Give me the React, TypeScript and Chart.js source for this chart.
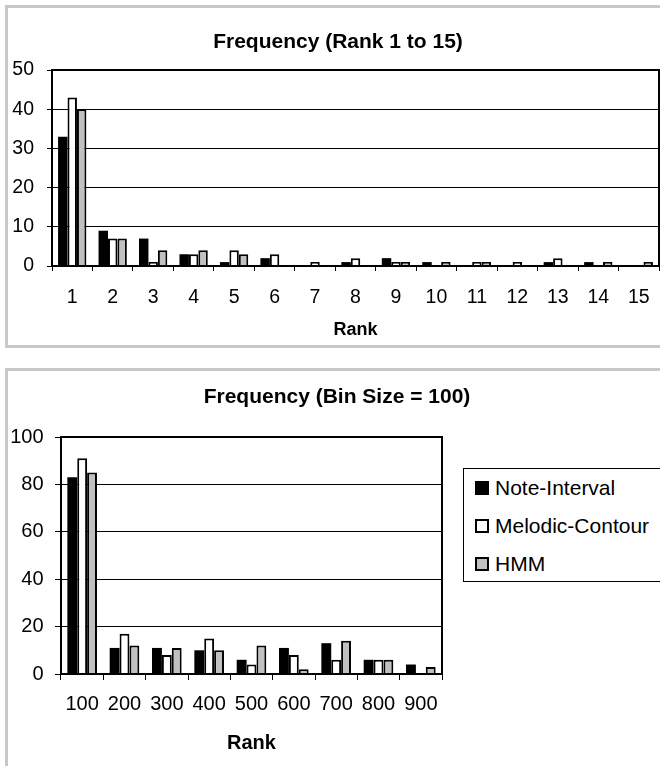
import React, { useEffect, useRef } from "react";
import { Chart, registerables } from "chart.js";

Chart.register(...registerables);

// ---------- data ----------
const rankLabels = ["1", "2", "3", "4", "5", "6", "7", "8", "9", "10", "11", "12", "13", "14", "15"];
const rankNoteInterval = [33, 9, 7, 3, 1, 2, 0, 1, 2, 1, 0, 0, 1, 1, 0];
const rankMelodicContour = [43, 7, 1, 3, 4, 3, 1, 2, 1, 0, 1, 1, 2, 0, 0];
const rankHMM = [40, 7, 4, 4, 3, 0, 0, 0, 1, 1, 1, 0, 0, 1, 1];

const binLabels = ["100", "200", "300", "400", "500", "600", "700", "800", "900"];
const binNoteInterval = [83, 11, 11, 10, 6, 11, 13, 6, 4];
const binMelodicContour = [91, 17, 8, 15, 4, 8, 6, 6, 0];
const binHMM = [85, 12, 11, 10, 12, 2, 14, 6, 3];

const seriesNames = ["Note-Interval", "Melodic-Contour", "HMM"];
const seriesColors = ["#000000", "#ffffff", "#c0c0c0"];

const FONT = "'Liberation Sans', Arial, Helvetica, sans-serif";

const framePlugin = {
  id: "frame",
  afterDraw(chart: any) {
    const { ctx, chartArea: a } = chart;
    ctx.save();
    ctx.strokeStyle = "#000";
    ctx.lineWidth = 2;
    ctx.strokeRect(a.left, a.top, a.right - a.left, a.bottom - a.top);
    ctx.restore();
  },
};

// chart title drawn centred on the whole canvas (independent of layout padding)
const centerTitlePlugin = {
  id: "centerTitle",
  afterDraw(chart: any, _args: any, opts: any) {
    if (!opts || !opts.text) return;
    const { ctx } = chart;
    ctx.save();
    ctx.fillStyle = "#000";
    ctx.font = `bold ${opts.size}px ${FONT}`;
    ctx.textAlign = "center";
    ctx.textBaseline = "middle";
    ctx.fillText(opts.text, opts.x, opts.y);
    ctx.restore();
  },
};

type ChartProps = {
  width: number;
  height: number;
  labels: string[];
  series: number[][];
  title: string;
  titleSize: number;
  titleX: number;
  titleY: number;
  plotTop: number;
  yMax: number;
  yStep: number;
  yWidth: number;
  yTickLen: number;
  yTickPad: number;
  xHeight: number;
  xTickLen: number;
  xTickPad: number;
  tickSize: number;
  axisTitleSize: number;
  axisTitlePadBottom: number;
  padRight: number;
};

function BarChart(p: ChartProps) {
  const ref = useRef<HTMLCanvasElement | null>(null);
  useEffect(() => {
    if (!ref.current) return;
    const chart = new Chart(ref.current, {
      type: "bar",
      data: {
        labels: p.labels,
        datasets: p.series.map((d, i) => ({
          label: seriesNames[i],
          data: d,
          backgroundColor: seriesColors[i],
          borderColor: "#000",
          borderWidth: i === 0 ? 0 : 2,
          categoryPercentage: 0.7,
          barPercentage: 1,
        })),
      },
      options: {
        responsive: false,
        animation: false,
        devicePixelRatio: 1,
        layout: { padding: { left: 0, right: p.padRight, top: p.plotTop, bottom: 0 } },
        plugins: {
          legend: { display: false },
          tooltip: { enabled: false },
          title: { display: false },
          centerTitle: { text: p.title, size: p.titleSize, x: p.titleX, y: p.titleY },
        },
        scales: {
          x: {
            grid: {
              display: true,
              drawOnChartArea: false,
              drawTicks: true,
              tickLength: p.xTickLen,
              color: "#000",
              lineWidth: 1,
              offset: true,
            },
            border: { display: true, color: "#000", width: 2 },
            ticks: {
              color: "#000",
              font: { family: FONT, size: p.tickSize, lineHeight: 1.2 },
              padding: p.xTickPad,
              autoSkip: false,
              maxRotation: 0,
              minRotation: 0,
            },
            title: {
              display: true,
              text: "Rank",
              color: "#000",
              font: { family: FONT, size: p.axisTitleSize, weight: "bold", lineHeight: 1.2 },
              padding: { top: 0, bottom: p.axisTitlePadBottom },
            },
            afterFit: (s: any) => {
              s.height = p.xHeight;
            },
          },
          y: {
            min: 0,
            max: p.yMax,
            grid: {
              display: true,
              drawOnChartArea: true,
              drawTicks: true,
              tickLength: p.yTickLen,
              color: "#000",
              lineWidth: 1,
            },
            border: { display: true, color: "#000", width: 2 },
            ticks: {
              stepSize: p.yStep,
              color: "#000",
              font: { family: FONT, size: p.tickSize, lineHeight: 1.2 },
              padding: p.yTickPad,
            },
            afterFit: (s: any) => {
              s.width = p.yWidth;
            },
          },
        },
      },
      plugins: [framePlugin, centerTitlePlugin],
    } as any);
    return () => chart.destroy();
  }, []);
  return <canvas ref={ref} width={p.width} height={p.height} style={{ display: "block" }} />;
}

export default function App() {
  return (
    <div
      style={{
        position: "absolute",
        left: 0,
        top: 0,
        width: 660,
        height: 766,
        overflow: "hidden",
        background: "#fff",
        fontFamily: FONT,
      }}
    >
      {/* chart frames */}
      <div
        style={{
          position: "absolute",
          left: 5,
          top: 5,
          width: 700,
          height: 343,
          border: "3px solid #c8c8c8",
          boxSizing: "border-box",
        }}
      />
      <div
        style={{
          position: "absolute",
          left: 5,
          top: 368,
          width: 700,
          height: 500,
          border: "3px solid #c8c8c8",
          boxSizing: "border-box",
        }}
      />

      <div style={{ position: "absolute", left: 0, top: 0 }}>
        <BarChart
          width={674}
          height={350}
          labels={rankLabels}
          series={[rankNoteInterval, rankMelodicContour, rankHMM]}
          title="Frequency (Rank 1 to 15)"
          titleSize={21}
          titleX={338}
          titleY={42}
          plotTop={70}
          yMax={50}
          yStep={10}
          yWidth={52}
          yTickLen={5}
          yTickPad={13}
          xHeight={84}
          xTickLen={5}
          xTickPad={15}
          tickSize={19.5}
          axisTitleSize={18}
          axisTitlePadBottom={9}
          padRight={15}
        />
      </div>

      <div style={{ position: "absolute", left: 0, top: 360 }}>
        <BarChart
          width={674}
          height={406}
          labels={binLabels}
          series={[binNoteInterval, binMelodicContour, binHMM]}
          title="Frequency (Bin Size = 100)"
          titleSize={21}
          titleX={337}
          titleY={37}
          plotTop={77}
          yMax={100}
          yStep={20}
          yWidth={61}
          yTickLen={6}
          yTickPad={11.5}
          xHeight={92}
          xTickLen={6}
          xTickPad={12}
          tickSize={20}
          axisTitleSize={20}
          axisTitlePadBottom={11}
          padRight={232}
        />
      </div>

      {/* legend */}
      <div
        style={{
          position: "absolute",
          left: 463,
          top: 468,
          width: 300,
          height: 114,
          border: "1px solid #000",
          boxSizing: "border-box",
          background: "#fff",
        }}
      >
        {seriesNames.map((name, i) => (
          <div
            key={name}
            style={{
              position: "absolute",
              left: 11,
              top: 19 + i * 38 - 13,
              height: 26,
              display: "flex",
              alignItems: "center",
              whiteSpace: "nowrap",
            }}
          >
            <span
              style={{
                display: "inline-block",
                width: 14,
                height: 14,
                boxSizing: "border-box",
                background: seriesColors[i],
                border: "2px solid #000",
                marginRight: 6,
              }}
            />
            <span style={{ fontSize: 21, lineHeight: "26px", color: "#000" }}>{name}</span>
          </div>
        ))}
      </div>
    </div>
  );
}
